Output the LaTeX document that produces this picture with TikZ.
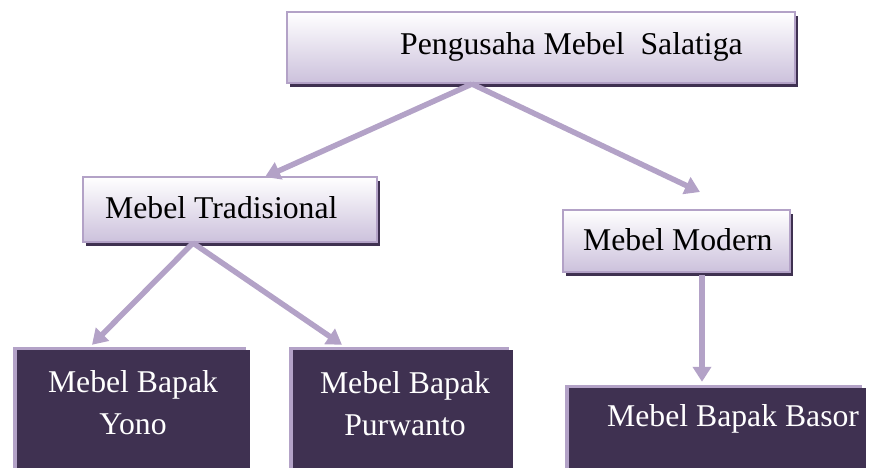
\documentclass[tikz,border=0pt]{standalone}
\usepackage{fontspec}
\setmainfont{Liberation Serif}
\usetikzlibrary{shadows,arrows.meta}
\definecolor{lav}{HTML}{B3A2C7}
\definecolor{lavlight}{HTML}{CCC1DC}
\definecolor{plum}{HTML}{3F3151}
\begin{document}
\begin{tikzpicture}[x=1pt,y=-1pt,
  boxfont/.style={font=\fontsize{31.7}{42}\selectfont},
  lightbox/.style={draw=lav, line width=2pt, top color=white, bottom color=lavlight,
    inner sep=0pt,
    drop shadow={shadow xshift=3pt, shadow yshift=-4pt, fill=plum, opacity=1}},
  darkbox/.style={fill=plum, inner sep=0pt,
    drop shadow={shadow xshift=-4pt, shadow yshift=3pt, fill=lav, opacity=1}},
  label/.style={boxfont, inner sep=0pt, anchor=base west},
  darklabel/.style={boxfont, text=white, align=center, anchor=base, inner sep=0pt},
  link/.style={draw=lav, line width=5.5pt, -{Triangle[length=15pt,width=18pt]}}
]
\useasboundingbox (0,0) rectangle (873,468);

% upper level boxes
\node[lightbox, minimum width=508pt, minimum height=71pt] (top) at (541,47.5) {};
\node[label] (toptext) at (400,55) {Pengusaha Mebel\ \ Salatiga};

\node[lightbox, minimum width=294pt, minimum height=65pt] (trad) at (230,209.5) {};
\node[label] (tradtext) at (105,218) {Mebel Tradisional};

\node[lightbox, minimum width=227pt, minimum height=62pt] (modern) at (676.5,241) {};
\node[label] (moderntext) at (583,250) {Mebel Modern};

% bottom level boxes (last line baseline given)
\node[darkbox, minimum width=233pt, minimum height=122pt] (yono) at (133.5,411) {};
\node[darklabel] (yonotext) at (133,434) {Mebel Bapak\\Yono};

\node[darkbox, minimum width=220pt, minimum height=122pt] (purw) at (403,411) {};
\node[darklabel] (purwtext) at (405,435) {Mebel Bapak\\Purwanto};

\node[darkbox, minimum width=297pt, minimum height=84pt] (basor) at (717.5,430) {};
\node[label, text=white] (basortext) at (607,426) {Mebel Bapak Basor};

% connectors
\draw[link] ([xshift=-69pt]top.south) -- ([xshift=35pt,yshift=-1pt]trad.north);
\draw[link] ([xshift=-69pt]top.south) -- ([xshift=23.5pt,yshift=17pt]modern.north);
\draw[link] ([xshift=-37pt]trad.south) -- ([xshift=-41.5pt,yshift=5pt]yono.north);
\draw[link] ([xshift=-37pt]trad.south) -- ([xshift=-61pt,yshift=5pt]purw.north);
\draw[link] ([xshift=25.5pt,yshift=-2pt]modern.south) -- ([xshift=-15.5pt,yshift=6pt]basor.north);
\end{tikzpicture}
\end{document}
